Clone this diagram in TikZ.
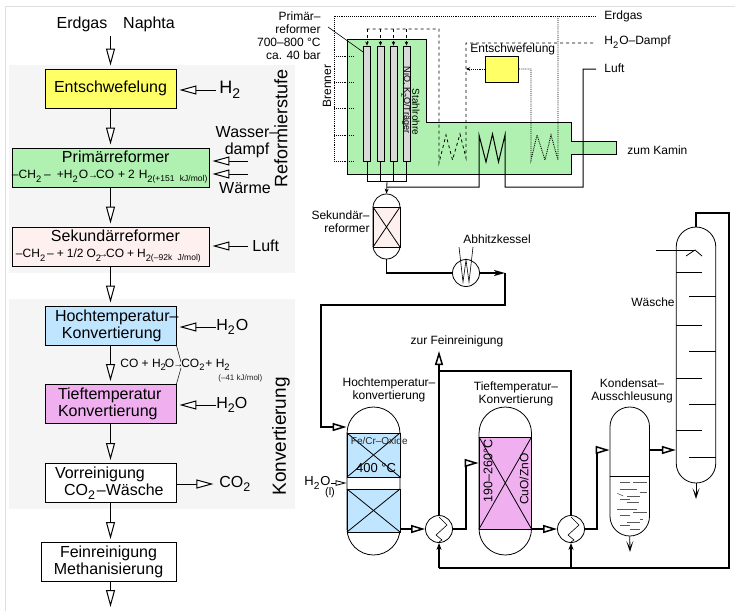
\documentclass[tikz,border=0pt]{standalone}
\usepackage{fontspec}
\usepackage{graphicx}
\setmainfont{Liberation Sans}
\usetikzlibrary{arrows.meta}
\definecolor{panelgray}{HTML}{F5F5F5}
\definecolor{desulfyellow}{HTML}{FFFF66}
\definecolor{reformgreen}{HTML}{B0F0B0}
\definecolor{secpink}{HTML}{FFF0F0}
\definecolor{htsblue}{HTML}{C0E5FF}
\definecolor{ltsviolet}{HTML}{F0B0F0}
\newcommand{\fsz}[1]{\fontsize{#1}{#1}\selectfont}
\newcommand{\sbs}[1]{\raisebox{-0.28em}{\scalebox{0.78}{#1}}}
\newcommand{\lline}[2]{\hspace*{#1}\makebox[0pt][l]{#2}}
\newcommand{\reacarrow}{{\fsz{10}\textbf{→}}}
\tikzset{
  flowbox/.style={draw,line width=0.9pt,inner sep=0pt,minimum height=39pt,font=\fontsize{16}{17}\selectfont},
  flowarrow/.style={line width=1pt,-{Triangle[length=17pt,width=9pt,fill=white]},shorten >=3pt},
  thinarrow/.style={line width=0.8pt,-{Triangle[length=11pt,width=5.5pt,fill=white]}},
  pipe/.style={line width=1.5pt},
  pipearrow/.style={pipe,-{Triangle[length=14pt,width=8pt,fill=white]}},
  feedarrow/.style={pipe,-{Stealth[length=7pt,width=5pt]}},
  barbarrow/.style={line width=0.8pt,-{Stealth[open,length=11pt,width=7pt,inset=6pt]}},
  vessel/.style={draw,line width=0.8pt,inner sep=0pt,fill=white},
  exchanger/.style={circle,draw,line width=0.8pt,inner sep=0pt,minimum size=27pt,fill=white},
  lab/.style={inner sep=0pt,font=\fontsize{12}{13}\selectfont},
  biglab/.style={inner sep=0pt,font=\fontsize{16}{17}\selectfont},
  dotline/.style={densely dotted,line width=0.9pt},
  dashline/.style={dash pattern=on 3pt off 3pt,line width=0.8pt},
}
\begin{document}
\begin{tikzpicture}[x=1pt,y=-1pt,line width=0.8pt]
\useasboundingbox (0,0) rectangle (735,611);
\draw[gray!25,line width=1pt] (5,611) -- (5,6) -- (735,6);
\fill[panelgray] (9,65) rectangle (295,273);
\fill[panelgray] (9,299) rectangle (295,509);
%%%%%%%%%%%%%%%%%%%% the block scheme %%%%%%%%%%%%%%%%%%%%
\node[biglab] (erdgas) at (82,24) {Erdgas};
\node[biglab] (naphta) at (149,24) {Naphta};
\coordinate (feed) at (110.5,36);
\node[flowbox,fill=desulfyellow,minimum width=131pt] (entschw) at (110.5,88.5) {Entschwefelung};
\node[flowbox,fill=reformgreen,minimum width=197pt,text width=197pt,align=left] (primaer) at (110.5,167.5)
  {\lline{50pt}{Primärreformer}\\[-1pt]
   \lline{0pt}{\fsz{12}–CH\sbs{2}\kern3pt–\kern6pt+H\sbs{2}\kern1ptO\kern0pt\reacarrow\kern-2ptCO\kern4pt+\kern3pt2\kern4ptH\sbs{2}{\fsz{8.5}\raisebox{-3pt}{(+151 kJ/mol)}}}};
\node[flowbox,fill=secpink,minimum width=197pt,text width=197pt,align=left] (sekundaer) at (110.5,246.5)
  {\lline{39pt}{Sekundärreformer}\\[-1pt]
   \lline{4pt}{\fsz{12}–CH\sbs{2}\kern2pt–\kern3pt+\kern3pt1/2\kern3ptO\sbs{2}\kern-3pt\reacarrow\kern-2ptCO\kern3pt+\kern3ptH\sbs{2}{\fsz{8.5}\raisebox{-3pt}{(–92k J/mol)}}}};
\node[flowbox,fill=htsblue,minimum width=131pt,text width=131pt,align=left] (hochtemp) at (110.5,325.5)
  {\lline{10pt}{Hochtemperatur–}\\\lline{17pt}{Konvertierung}};
\node[flowbox,fill=ltsviolet,minimum width=131pt,text width=131pt,align=left] (tieftemp) at (110.5,404)
  {\lline{13pt}{Tieftemperatur}\\\lline{13pt}{Konvertierung}};
\node[flowbox,fill=white,minimum width=131pt,text width=131pt,align=left] (vorrein) at (110.5,483)
  {\lline{10pt}{Vorreinigung}\\\lline{19pt}{CO\sbs{2}\kern2pt–Wäsche}};
\node[flowbox,fill=white,minimum width=135pt,align=center] (feinrein) at (108.5,562)
  {Feinreinigung\\Methanisierung};
\coordinate (flowend) at (110.5,610);
\draw[flowarrow] (feed) -- (entschw);
\draw[flowarrow] (entschw) -- (primaer);
\draw[flowarrow] (primaer) -- (sekundaer);
\draw[flowarrow] (sekundaer) -- (hochtemp);
\draw[flowarrow] (hochtemp) -- (tieftemp);
\draw[flowarrow] (tieftemp) -- (vorrein);
\draw[flowarrow] (vorrein) -- (vorrein |- feinrein.north);
\draw[flowarrow] (feinrein.south -| flowend) -- (flowend);
% side streams
\node[inner sep=0pt,font=\fontsize{18}{18}\selectfont,anchor=west] (hzwei) at (219,90) {H\sbs{2}};
\node[biglab,align=center] (wasser) at (247,142) {Wasser–\\dampf};
\node[biglab] (waerme) at (245,188) {Wärme};
\node[biglab,anchor=west] (luftin) at (252,246) {Luft};
\node[biglab,anchor=west] (hzweio) at (216,327) {H\sbs{2}\kern1ptO};
\node[biglab,anchor=west] (hzweiob) at (216,405) {H\sbs{2}O};
\node[biglab,anchor=west] (cozwei) at (219,484) {CO\sbs{2}};
\coordinate (wasserin) at (248,161);
\coordinate (waermein) at (248,174);
\draw[flowarrow] (hzwei.west) ++(-3,0) -- (entschw.east |- hzwei);
\draw[flowarrow] (wasserin) -- (primaer.east |- wasserin);
\draw[flowarrow] (waermein) -- (primaer.east |- waermein);
\draw[flowarrow] (luftin.west) ++(-4,0) -- (sekundaer.east |- luftin);
\draw[flowarrow] (hzweio.west) -- (hochtemp.east |- hzweio);
\draw[flowarrow] (hzweiob.west) -- (tieftemp.east |- hzweiob);
\draw[flowarrow] (vorrein.east |- cozwei) -- ++(40,0);
% reaction of the conversion
\node[lab,anchor=west] (shift) at (120,365) {CO + H\sbs{2}\kern-1ptO\kern-1pt\reacarrow\kern-2ptCO\sbs{2}\kern1pt+ H\sbs{2}};
\node[inner sep=0pt,font=\fsz{8},gray!30!black,anchor=west] (shiftheat) at (218,378) {(–41 kJ/mol)};
\draw[line width=0.5pt] (hochtemp.south east) -- (181,362);
\draw[line width=0.5pt] (tieftemp.north east) -- (181,368);
\node[inner sep=0pt,rotate=90,font=\fsz{18}] (reformstufe) at (281,128.5) {Reformierstufe};
\node[inner sep=0pt,rotate=90,font=\fsz{19}] (konv) at (281,436.5) {Konvertierung};
%%%%%%%%%%%%%%%%%%%% the reforming furnace %%%%%%%%%%%%%%%%%%%%
\filldraw[fill=reformgreen,line width=0.8pt] (347,39) -- (426,39) -- (426,122) -- (571,122) -- (571,141) -- (616.5,141)
  -- (616.5,154) -- (571,154) -- (571,174) -- (347,174) -- cycle;
\foreach \i/\xx in {1/367,2/380.5,3/393.5,4/406.5}{
  \node[draw,fill=gray!30,inner sep=0pt,minimum width=7pt,minimum height=115pt] (tube\i) at (\xx,103.5) {};
  \draw[dashline,-{Stealth[length=4pt,width=3.5pt]}] (\xx,29) -- (tube\i.north);
  \draw (tube\i.south) -- (\xx,181);
}
\draw (tube1 |- 0,181) -- (tube4 |- 0,181);
\node[vessel,fill=desulfyellow] (desulf) at (502,69) [minimum width=33pt,minimum height=26pt] {};
\node[lab,anchor=west] (desulflab) at (470,49) {Entschwefelung};
% gas lines
\coordinate (erdgasend) at (596,16);
\coordinate (dampfend) at (596,43);
\coordinate (luftend) at (596,69);
\draw[dotline] (erdgasend) -- (334,16) -- (334,161);
\foreach \yy in {56,82,108,135,161}{
  \draw[dotline] (334,\yy) -- (354,\yy);
}
\draw[dashline] (366.5,29) -- (439,29) -- (439,163) -- (446,135) -- (452.5,160) -- (460,134) -- (466,158) -- (466,43) -- (dampfend);
\draw[dotline,-{Stealth[length=4pt,width=3.5pt]}] (desulf.west) -- (466,69);
\draw[dotline] (desulf.east) -- (531,69) -- (531,160) -- (537,135) -- (545,160) -- (551,135) -- (558,160) -- (558,16);
\draw[line width=1pt] (387,187) -- (479,187) -- (479,135) -- (486,162) -- (492.5,134) -- (498.5,162) -- (505,135) -- (505,187)
  -- (583,187) -- (583,69) -- (luftend);
% labels of the furnace
\node[lab,align=right,anchor=north east] (primlab) at (321,11) {Primär–\\reformer\\700–800 °C\\ca. 40 bar};
\draw[line width=0.6pt] (328,27) -- (tube1.north west |- 0,52);
\node[lab,rotate=90] (brenner) at (327,86) {Brenner};
\node[inner sep=0pt,rotate=-90,font=\fsz{10}] (stahl) at (416,112) {Stahlrohre};
\node[inner sep=0pt,rotate=-90,font=\fsz{9}] (nio) at (406,100) {NiO, K\sbs{2}O/Träger};
\node[lab,anchor=west] (erdgaslab) at (604,16) {Erdgas};
\node[lab,anchor=west] (dampflab) at (604,42) {H\sbs{2}\kern1ptO–Dampf};
\node[lab,anchor=west] (luftlab) at (604,68) {Luft};
\node[lab,anchor=west] (kamin) at (627,150) {zum Kamin};
%%%%%%%%%%%%%%%%%%%% the secondary reformer %%%%%%%%%%%%%%%%%%%%
\node[vessel,rounded corners=13.5pt,minimum width=27pt,minimum height=65pt] (sekves) at (386.5,226.5) {};
\draw[fill=secpink] (373,207) rectangle (400,247);
\draw (373,207) -- (400,247) (373,247) -- (400,207);
\draw[-{Stealth[length=5pt,width=4pt]}] (387,181) -- (sekves.north);
\node[lab,align=right,anchor=east] (seklab) at (370,222) {Sekundär–\\reformer};
\node[exchanger] (kessel) at (466,273) {};
\draw[pipe] (sekves.south) -- (sekves.south |- kessel) -- (kessel);
\draw[line width=0.6pt] (459,247) -- (463,282) -- (466,260) -- (469,282) -- (473,247);
\node[lab,anchor=west] (kessellab) at (463,239) {Abhitzkessel};
\coordinate (kesselout) at (505,273);
\draw[feedarrow,-{Stealth[length=11pt,width=6pt,inset=3pt]}] (kessel) -- (kesselout);
%%%%%%%%%%%%%%%%%%%% the high temperature converter %%%%%%%%%%%%%%%%%%%%
\node[vessel,rounded corners=26.5pt,minimum width=53pt,minimum height=148pt] (htves) at (373.5,481) {};
\draw[fill=htsblue] (347,433) rectangle (400,477);
\draw (347,433) -- (400,477) (347,477) -- (400,433);
\draw[fill=htsblue] (347,489) rectangle (400,532);
\draw (347,489) -- (400,532) (347,532) -- (400,489);
\draw[pipearrow] (kesselout) -- (505,305) -- (321,305) -- (321,427) -- (htves.west |- 0,427);
\node[inner sep=0pt,font=\fsz{10},gray!30!black,anchor=west] (katlab) at (350.5,441) {Fe/Cr–Oxide};
\node[inner sep=0pt,font=\fsz{13}] (templab) at (376,468) {400 °C};
\node[lab,align=center] (htlab) at (389,390) {Hochtemperatur–\\konvertierung};
\node[inner sep=0pt,font=\fsz{13},anchor=west] (wasserl) at (304,483) {H\sbs{2}\kern1ptO};
\node[inner sep=0pt,font=\fsz{11}] (wasserlb) at (330,493) {(l)};
\draw[thinarrow] (wasserl.east |- 0,483) -- (htves.west |- 0,483);
\node[exchanger] (hxa) at (439,529) {};
\draw[line width=0.6pt] (439,517) -- (447,525) -- (436,535) -- (442,540) -- (439,542);
\draw[pipearrow] (htves.east |- hxa) -- (hxa);
%%%%%%%%%%%%%%%%%%%% the low temperature converter %%%%%%%%%%%%%%%%%%%%
\node[vessel,rounded corners=26.25pt,minimum width=52.5pt,minimum height=148pt] (ltves) at (505.25,481) {};
\draw[fill=ltsviolet] (479,437) rectangle (531.5,529);
\draw (479,437) -- (531.5,529) (479,529) -- (531.5,437);
\node[inner sep=0pt,rotate=90,font=\fsz{12.5}] (ltemp) at (488,471) {190–260°C};
\node[inner sep=0pt,rotate=90,font=\fsz{12}] (ltkat) at (524,479) {CuO/ZnO};
\node[lab,align=center] (ltlab) at (516,394) {Tieftemperatur–\\Konvertierung};
\draw[pipearrow] (hxa) -- (466,529) -- (466,463) -- (ltves.west |- 0,463);
\node[exchanger] (hxb) at (571,529) {};
\draw[line width=0.6pt] (571,517) -- (579,525) -- (568,535) -- (574,540) -- (571,542);
\draw[pipearrow] (ltves.east |- hxb) -- (hxb);
\node[lab] (feinlab) at (457,341) {zur Feinreinigung};
\draw[pipe] (hxb) -- (571,371) -- (439,371);
\draw[pipearrow] (hxa) -- (439,351);
%%%%%%%%%%%%%%%%%%%% the condensate separator %%%%%%%%%%%%%%%%%%%%
\node[vessel,rounded corners=19.75pt,minimum width=39.5pt,minimum height=129pt] (kondves) at (629.75,471.5) {};
\draw (610,476) -- (649.5,476);
\foreach \xa/\ya/\xb/\yb in {300/278/330/278,340/278/380/278,300/298/350/298,360/308/380/308,292/310/310/318,322/318/360/318,300/327/330/327,320/338/358/338,292/357/350/357,340/367/380/367,300/377/330/377,360/387/370/387,320/397/360/397,300/407/330/407,330/417/360/417}{
  \draw[gray!70!black,line width=0.6pt] ({520+\xa/3},{390+\ya/3}) -- ({520+\xb/3},{390+\yb/3});
}
\node[lab,align=center] (kondlab) at (632,391) {Kondensat–\\Ausschleusung};
\draw[pipearrow] (hxb) -- (597,529) -- (597,450) -- (kondves.west |- 0,450);
\coordinate (kondend) at (630,552);
\draw[barbarrow] (kondves.south) -- (kondend);
%%%%%%%%%%%%%%%%%%%% the scrubber %%%%%%%%%%%%%%%%%%%%
\node[vessel,rounded corners=19.75pt,minimum width=39.5pt,minimum height=256pt] (waesche) at (696,355) {};
\foreach \yy in {272,325,378,430}{
  \draw (676,\yy) -- (702,\yy);
}
\foreach \yy in {296,351,404,457}{
  \draw (689,\yy) -- (716,\yy);
}
\draw (656,250) -- (695,250);
\draw (686,256) -- (695,250) -- (702,256);
\node[lab,anchor=east] (waeschlab) at (675,302) {Wäsche};
\draw[pipearrow] (kondves.east |- 0,450) -- (waesche.west |- 0,450);
\coordinate (waescheend) at (696,499);
\draw[barbarrow] (waesche.south) -- (waescheend);
\draw[pipe] (waesche.north) -- (696,213) -- (729,213) -- (729,568) -- (439,568);
\draw[feedarrow] (439,568) -- (hxa);
\draw[feedarrow] (571,568) -- (hxb);
\end{tikzpicture}
\end{document}
